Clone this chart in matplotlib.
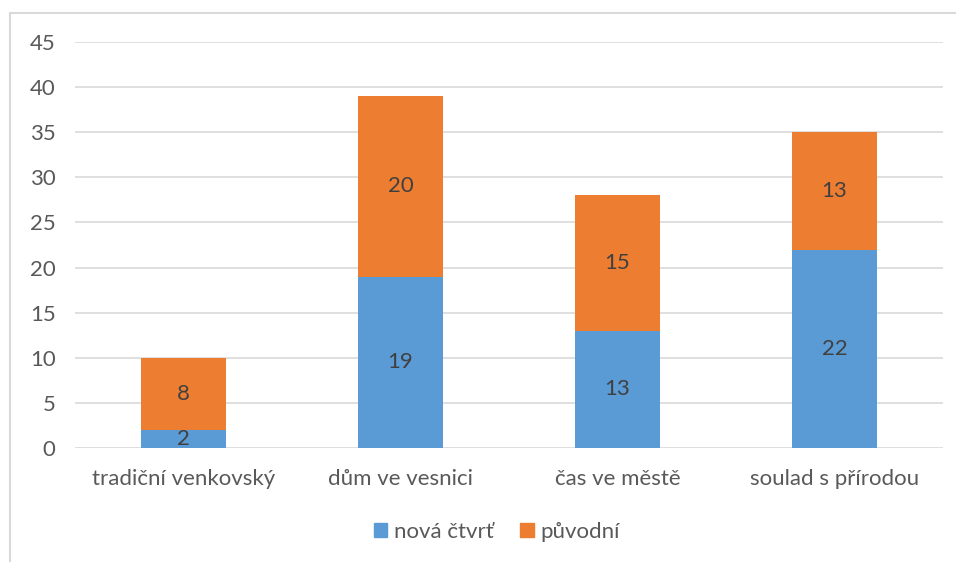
import matplotlib
matplotlib.use("Agg")
import matplotlib.pyplot as plt
from matplotlib.patches import Rectangle
from matplotlib.lines import Line2D

categories = ["tradiční venkovský", "dům ve vesnici", "čas ve městě", "soulad s přírodou"]
nova_ctvrt = [2, 19, 13, 22]
puvodni = [8, 20, 15, 13]
series_names = ["nová čtvrť", "původní"]
yticks = [0, 5, 10, 15, 20, 25, 30, 35, 40, 45]

blue = "#5B9BD5"
orange = "#ED7D31"
txt = "#595959"

plt.rcParams['font.family'] = ['Lato', 'DejaVu Sans']

W, H = 956, 562
fig = plt.figure(figsize=(W/100, H/100), dpi=100)
fig.patch.set_facecolor("white")

# plot area in pixels
left, right = 75, 943
top, bottom = 42, 448
ax = fig.add_axes([left/W, 1-bottom/H, (right-left)/W, (bottom-top)/H])

x = list(range(len(categories)))
bw = 0.39
ax.bar(x, nova_ctvrt, width=bw, color=blue, zorder=3)
ax.bar(x, puvodni, width=bw, bottom=nova_ctvrt, color=orange, zorder=3)

fs = 16
for i in x:
    ax.text(i, nova_ctvrt[i]/2, str(nova_ctvrt[i]), ha="center", va="center",
            fontsize=fs, color="#404040", zorder=4)
    ax.text(i, nova_ctvrt[i] + puvodni[i]/2, str(puvodni[i]), ha="center", va="center",
            fontsize=fs, color="#404040", zorder=4)

ax.set_xlim(-0.5, len(categories)-0.5)
ax.set_ylim(0, 45)
ax.set_yticks(yticks)
ax.set_yticklabels([str(v) for v in yticks])
ax.set_xticks(x)
ax.set_xticklabels(categories)
ax.grid(axis="y", color="#D9D9D9", linewidth=1.2, zorder=0)
ax.set_axisbelow(True)
for s in ax.spines.values():
    s.set_visible(False)
ax.tick_params(axis="both", length=0, labelsize=fs, labelcolor=txt)
ax.tick_params(axis="y", pad=14)
ax.tick_params(axis="x", pad=15)

# legend
handles = [Rectangle((0, 0), 1, 1, color=blue), Rectangle((0, 0), 1, 1, color=orange)]
fig.legend(handles, series_names, loc="center", bbox_to_anchor=(497/W, 1-532/H),
           ncol=2, frameon=False, fontsize=fs, labelcolor=txt,
           handlelength=0.6, handleheight=0.6, handletextpad=0.3, columnspacing=1.2)

# chart border
fig.add_artist(Line2D([10/W, 10/W], [0, 1-13/H], transform=fig.transFigure, color="#D9D9D9", linewidth=1.5))
fig.add_artist(Line2D([10/W, 1], [1-13/H, 1-13/H], transform=fig.transFigure, color="#D9D9D9", linewidth=1.5))

fig.savefig("out.png", dpi=100, facecolor="white")
